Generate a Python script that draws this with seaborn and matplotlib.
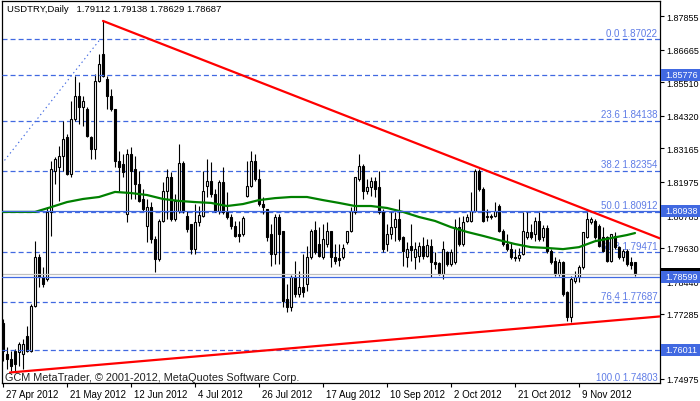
import matplotlib
matplotlib.use("Agg")
import matplotlib.pyplot as plt
import matplotlib.transforms as mtransforms
from matplotlib.patches import Rectangle
import numpy as np
import seaborn as sns

# ---- data ----
date_labels = ["27 Apr 2012", "21 May 2012", "12 Jun 2012", "4 Jul 2012", "26 Jul 2012",
               "17 Aug 2012", "10 Sep 2012", "2 Oct 2012", "21 Oct 2012", "9 Nov 2012"]
date_bars = [0, 16, 32, 48, 64, 80, 96, 112, 128, 144]

opens = [
    1.7696, 1.7586, 1.7568, 1.7596, 1.7593, 1.7586, 1.7650, 1.7596, 1.7756, 1.7930,
    1.7859, 1.7852, 1.8090, 1.8235, 1.8250, 1.8289, 1.8356, 1.8225, 1.8420, 1.8502,
    1.8463, 1.8455, 1.8356, 1.8313, 1.8555, 1.8651, 1.8562, 1.8502, 1.8455, 1.8271,
    1.8260, 1.8083, 1.8296, 1.8242, 1.8189, 1.8136, 1.8040, 1.8108, 1.7994, 1.7923,
    1.8058, 1.8164, 1.8214, 1.8065, 1.8093, 1.8264, 1.8076, 1.8047, 1.7958, 1.8054,
    1.8076, 1.8182, 1.8200, 1.8154, 1.8093, 1.8196, 1.8090, 1.8072, 1.8040, 1.8012,
    1.8012, 1.8147, 1.8182, 1.8271, 1.8207, 1.8118, 1.8100, 1.8012, 1.7941, 1.8072,
    1.8022, 1.7781, 1.7753, 1.7859, 1.7799, 1.7823, 1.7834, 1.7930, 1.8026, 1.7976,
    1.7930, 1.7976, 1.8022, 1.7930, 1.7926, 1.7930, 1.7983, 1.8022, 1.8090, 1.8207,
    1.8253, 1.8164, 1.8178, 1.8200, 1.8178, 1.8090, 1.7976, 1.8012, 1.8037, 1.8065,
    1.8001, 1.7930, 1.7969, 1.7930, 1.7934, 1.7969, 1.7934, 1.7969, 1.7912, 1.7909,
    1.7870, 1.7948, 1.7905, 1.7912, 1.8037, 1.7976, 1.8058, 1.8058, 1.8093, 1.8235,
    1.8171, 1.8072, 1.8076, 1.8076, 1.8111, 1.8022, 1.7976, 1.7958, 1.7930, 1.7926,
    1.7941, 1.8001, 1.8019, 1.8012, 1.8058, 1.8001, 1.8033, 1.7951, 1.7916, 1.7870,
    1.7912, 1.7806, 1.7717, 1.7845, 1.7859, 1.7894, 1.8001, 1.8054, 1.8058, 1.8040,
    1.8001, 1.8001, 1.7916, 1.8005, 1.7966, 1.7930, 1.7951, 1.7912, 1.79112]
highs = [
    1.7710, 1.7611, 1.7596, 1.7603, 1.7628, 1.7639, 1.7685, 1.7763, 1.7987, 1.7941,
    1.7894, 1.8108, 1.8271, 1.8285, 1.8324, 1.8413, 1.8367, 1.8484, 1.8573, 1.8551,
    1.8502, 1.8463, 1.8360, 1.8580, 1.8651, 1.8768, 1.8573, 1.8526, 1.8455, 1.8306,
    1.8296, 1.8313, 1.8320, 1.8289, 1.8235, 1.8171, 1.8136, 1.8125, 1.8005, 1.8065,
    1.8196, 1.8242, 1.8232, 1.8154, 1.8331, 1.8271, 1.8093, 1.8047, 1.8118, 1.8111,
    1.8235, 1.8278, 1.8267, 1.8171, 1.8203, 1.8250, 1.8161, 1.8083, 1.8058, 1.8058,
    1.8076, 1.8271, 1.8306, 1.8296, 1.8242, 1.8143, 1.8100, 1.8047, 1.8083, 1.8083,
    1.8022, 1.7834, 1.7866, 1.7916, 1.7880, 1.7941, 1.7969, 1.8029, 1.8058, 1.8037,
    1.8047, 1.8054, 1.8022, 1.7976, 1.7976, 1.7976, 1.8022, 1.8108, 1.8214, 1.8296,
    1.8260, 1.8207, 1.8214, 1.8214, 1.8235, 1.8100, 1.8047, 1.8090, 1.8090, 1.8136,
    1.8005, 1.7983, 1.8047, 1.7983, 1.7983, 1.8001, 1.7994, 1.7994, 1.7948, 1.7912,
    1.7987, 1.7951, 1.7958, 1.8065, 1.8072, 1.8076, 1.8083, 1.8161, 1.8242, 1.8242,
    1.8178, 1.8100, 1.8083, 1.8125, 1.8118, 1.8029, 1.8012, 1.7983, 1.7958, 1.7962,
    1.8090, 1.8090, 1.8047, 1.8072, 1.8090, 1.8044, 1.8044, 1.7958, 1.7930, 1.7923,
    1.7916, 1.7809, 1.7863, 1.7880, 1.7902, 1.8019, 1.8090, 1.8072, 1.8065, 1.8047,
    1.8037, 1.8005, 1.8012, 1.8019, 1.7969, 1.7958, 1.7958, 1.7930, 1.79138]
lows = [
    1.7561, 1.7532, 1.7525, 1.7525, 1.7542, 1.7532, 1.7593, 1.7593, 1.7753, 1.7823,
    1.7823, 1.7845, 1.8005, 1.8189, 1.8129, 1.8235, 1.8221, 1.8214, 1.8413, 1.8402,
    1.8395, 1.8356, 1.8278, 1.8278, 1.8551, 1.8569, 1.8455, 1.8448, 1.8250, 1.8164,
    1.8214, 1.8054, 1.8136, 1.8136, 1.8125, 1.8093, 1.7983, 1.7980, 1.7877, 1.7916,
    1.8054, 1.8065, 1.8058, 1.8058, 1.8086, 1.8086, 1.8019, 1.7941, 1.7941, 1.8040,
    1.8072, 1.8143, 1.8143, 1.8090, 1.8083, 1.8083, 1.8065, 1.8029, 1.8001, 1.7983,
    1.8005, 1.8143, 1.8178, 1.8200, 1.8111, 1.8083, 1.7987, 1.7898, 1.7905, 1.7905,
    1.7753, 1.7735, 1.7738, 1.7788, 1.7788, 1.7788, 1.7809, 1.7923, 1.7941, 1.7930,
    1.7923, 1.7966, 1.7894, 1.7905, 1.7898, 1.7923, 1.7976, 1.8019, 1.8083, 1.8200,
    1.8136, 1.8154, 1.8147, 1.8143, 1.8083, 1.7948, 1.7951, 1.7994, 1.7987, 1.7987,
    1.7898, 1.7894, 1.7916, 1.7887, 1.7912, 1.7923, 1.7930, 1.7859, 1.7887, 1.7866,
    1.7852, 1.7898, 1.7898, 1.7905, 1.7969, 1.7969, 1.8054, 1.8054, 1.8090, 1.8164,
    1.8054, 1.8058, 1.8065, 1.8072, 1.8019, 1.7969, 1.7951, 1.7923, 1.7916, 1.7916,
    1.7937, 1.7994, 1.7994, 1.7987, 1.7987, 1.7987, 1.7944, 1.7905, 1.7863, 1.7863,
    1.7792, 1.7703, 1.7699, 1.7838, 1.7841, 1.7887, 1.7997, 1.8047, 1.7994, 1.7966,
    1.7948, 1.7912, 1.7912, 1.7958, 1.7923, 1.7916, 1.7898, 1.7887, 1.78629]
closes = [
    1.7596, 1.7568, 1.7542, 1.7550, 1.7621, 1.7621, 1.7596, 1.7756, 1.7930, 1.7859,
    1.7834, 1.8090, 1.8242, 1.8278, 1.8289, 1.8349, 1.8225, 1.8420, 1.8502, 1.8463,
    1.8484, 1.8360, 1.8313, 1.8555, 1.8615, 1.8573, 1.8502, 1.8455, 1.8271, 1.8250,
    1.8232, 1.8296, 1.8235, 1.8189, 1.8129, 1.8100, 1.8108, 1.7994, 1.7923, 1.8058,
    1.8164, 1.8214, 1.8065, 1.8129, 1.8264, 1.8093, 1.8029, 1.7958, 1.8054, 1.8079,
    1.8164, 1.8200, 1.8154, 1.8093, 1.8196, 1.8090, 1.8072, 1.8040, 1.8005, 1.8005,
    1.8068, 1.8182, 1.8271, 1.8207, 1.8118, 1.8108, 1.8001, 1.7941, 1.8072, 1.8012,
    1.7774, 1.7753, 1.7859, 1.7799, 1.7823, 1.7806, 1.7930, 1.8022, 1.7948, 1.7934,
    1.7994, 1.8022, 1.7930, 1.7916, 1.7919, 1.7962, 1.8022, 1.8093, 1.8214, 1.8253,
    1.8164, 1.8178, 1.8200, 1.8171, 1.8090, 1.7958, 1.8012, 1.8037, 1.8065, 1.7994,
    1.7951, 1.7958, 1.7955, 1.7958, 1.7969, 1.7934, 1.7973, 1.7912, 1.7905, 1.7870,
    1.7958, 1.7905, 1.7948, 1.8037, 1.7976, 1.8054, 1.8072, 1.8093, 1.8235, 1.8171,
    1.8058, 1.8076, 1.8072, 1.8093, 1.8022, 1.7976, 1.7958, 1.7930, 1.7926, 1.7937,
    1.8022, 1.8019, 1.8001, 1.8058, 1.7994, 1.8033, 1.7951, 1.7912, 1.7870, 1.7912,
    1.7799, 1.7717, 1.7852, 1.7859, 1.7894, 1.8019, 1.8065, 1.8065, 1.8001, 1.7969,
    1.7951, 1.7916, 1.8012, 1.7966, 1.7930, 1.7951, 1.7905, 1.7902, 1.78687]

# moving average (green), sampled along the bars
ma_bars = [0, 8, 12, 16, 20, 24, 28, 32, 36, 40, 44, 48, 52, 56, 60, 64, 68, 72, 76, 80,
           84, 88, 92, 96, 100, 104, 108, 112, 116, 120, 124, 128, 132, 136, 140, 144,
           148, 152, 156, 158]
ma_values = [1.8090, 1.8090, 1.8107, 1.8125, 1.8136, 1.8143, 1.8161, 1.8157, 1.8150, 1.8136,
             1.8129, 1.8125, 1.8122, 1.8111, 1.8118, 1.8132, 1.8139, 1.8143, 1.8143, 1.8132,
             1.8122, 1.8111, 1.8111, 1.8104, 1.8090, 1.8072, 1.8058, 1.8036, 1.8019, 1.8005,
             1.7990, 1.7976, 1.7965, 1.7962, 1.7958, 1.7965, 1.7986, 1.7997, 1.8008, 1.8015]

fib_levels = [1.87022, 1.84138, 1.82354, 1.80912, 1.79471, 1.77687, 1.74803]
fib_labels = ["0.0 1.87022", "23.6 1.84138", "38.2 1.82354", "50.0 1.80912",
              "61.8 1.79471", "76,4 1.77687", "100.0 1.74803"]
fib_anchor_bars = [-43.7, 24.25]
fib_anchor_prices = [1.74803, 1.87022]

upper_line_bars = [25, 164.25]
upper_line_prices = [1.8768, 1.7996]
lower_line_bars = [1.75, 164.25]
lower_line_prices = [1.7520, 1.7719]

solid_levels = [1.80938, 1.78599]
dashed_levels = [1.85776, 1.76011]
box_levels = [1.85776, 1.80938, 1.78599, 1.76011]
bid_price = 1.78687

ytick_values = [1.87855, 1.86665, 1.85510, 1.84320, 1.83165, 1.81975,
                1.80785, 1.79630, 1.78440, 1.77285, 1.76130, 1.74975]

title = "USDTRY,Daily   1.79112 1.79138 1.78629 1.78687"
footer = "GCM MetaTrader, \u00a9 2001-2012, MetaQuotes Software Corp."

# ---- style ----
sns.set_style("white")
plt.rcParams["font.family"] = ["Liberation Sans", "DejaVu Sans"]
plt.rcParams["lines.scale_dashes"] = False
blue = "#4169E1"
label_blue = "#5f7ce6"
dash = (0, (3.6, 2.2))
fs = 7
scale_fs = 6.5

fig = plt.figure(figsize=(7, 4.02), dpi=100)
ax = fig.add_axes([2 / 700, 18 / 402, 658 / 700, 382 / 402])
ax.set_xlim(-0.25, 164.25)
ax.set_ylim(1.74827, 1.88388)
px = (1.88388 - 1.74827) / 382  # price per pixel

# fibonacci (background object)
for lvl, lab in zip(fib_levels, fib_labels):
    ax.axhline(lvl, color=blue, lw=0.9, ls=dash, zorder=1)
    ax.text(163.6, lvl + 1.5 * px, lab, ha="right", va="bottom", color=label_blue,
            fontsize=fs, zorder=1.2)
ax.plot(fib_anchor_bars, fib_anchor_prices, color=blue, lw=0.8, ls=(0, (1, 2.2)), zorder=1)

# candles
o, h, l, c = map(np.array, (opens, highs, lows, closes))
idx = np.arange(len(o))
up = c >= o
ax.vlines(idx, l, h, color="black", lw=0.8, zorder=2)
bottom = np.minimum(o, c)
height = np.maximum(np.abs(c - o), px)
ax.bar(idx[up], height[up], bottom=bottom[up], width=0.6, color="white",
       edgecolor="black", linewidth=0.8, zorder=2.1)
ax.bar(idx[~up], height[~up], bottom=bottom[~up], width=0.6, color="black",
       edgecolor="black", linewidth=0.8, zorder=2.1)

# bid line
ax.axhline(bid_price, color="#C0C0C0", lw=0.9, zorder=2.5)

# moving average
sns.lineplot(x=ma_bars, y=ma_values, color="#008000", lw=1.6, ax=ax, zorder=3)

# horizontal lines
for lvl in solid_levels:
    ax.axhline(lvl, color=blue, lw=0.9, zorder=4)
for lvl in dashed_levels:
    ax.axhline(lvl, color=blue, lw=0.9, ls=dash, zorder=4)

# trend lines
sns.lineplot(x=upper_line_bars, y=upper_line_prices, color="red", lw=1.6, ax=ax, zorder=4)
sns.lineplot(x=lower_line_bars, y=lower_line_prices, color="red", lw=1.6, ax=ax, zorder=4)

# axes
for sp in ax.spines.values():
    sp.set_color("black")
    sp.set_linewidth(0.9)
    sp.set_visible(True)
ax.yaxis.tick_right()
ax.set_yticks(ytick_values)
ax.set_yticklabels([f"{v:.5f}" for v in ytick_values])
ax.tick_params(axis="y", length=3, width=0.8, pad=1.5, labelsize=scale_fs, colors="black",
               direction="out", right=True, left=False)
ax.set_xticks(date_bars)
ax.set_xticklabels(date_labels)
ax.tick_params(axis="x", length=3, width=0.8, pad=1.5, labelsize=fs, colors="black",
               direction="out", bottom=True)
shift = mtransforms.ScaledTranslation(0.025, 0, fig.dpi_scale_trans)
for lbl in ax.get_xticklabels():
    lbl.set_horizontalalignment("left")
    lbl.set_transform(lbl.get_transform() + shift)
ax.set_xlabel("")
ax.set_ylabel("")

# price boxes on the right scale
blend = mtransforms.blended_transform_factory(fig.transFigure, ax.transData)
ax.add_patch(Rectangle((661 / 700, bid_price - 6 * px), 39 / 700, 12 * px,
                       transform=blend, fc="black", ec="none", clip_on=False, zorder=5))
for lvl in box_levels:
    ax.add_patch(Rectangle((661 / 700, lvl - 6 * px), 39 / 700, 12 * px,
                           transform=blend, fc=blue, ec="none", clip_on=False, zorder=5.5))
    ax.text(665 / 700, lvl, f"{lvl:.5f}", transform=blend, color="white", fontsize=scale_fs,
            ha="left", va="center", zorder=6, clip_on=False)

fig.text(7 / 700, 1 - 10 / 402, title, fontsize=6.8, ha="left", va="center", color="black")
fig.text(5 / 700, 1 - 378 / 402, footer, fontsize=7.8, ha="left", va="center",
         color="#202020")

fig.savefig("out.png", dpi=100)
